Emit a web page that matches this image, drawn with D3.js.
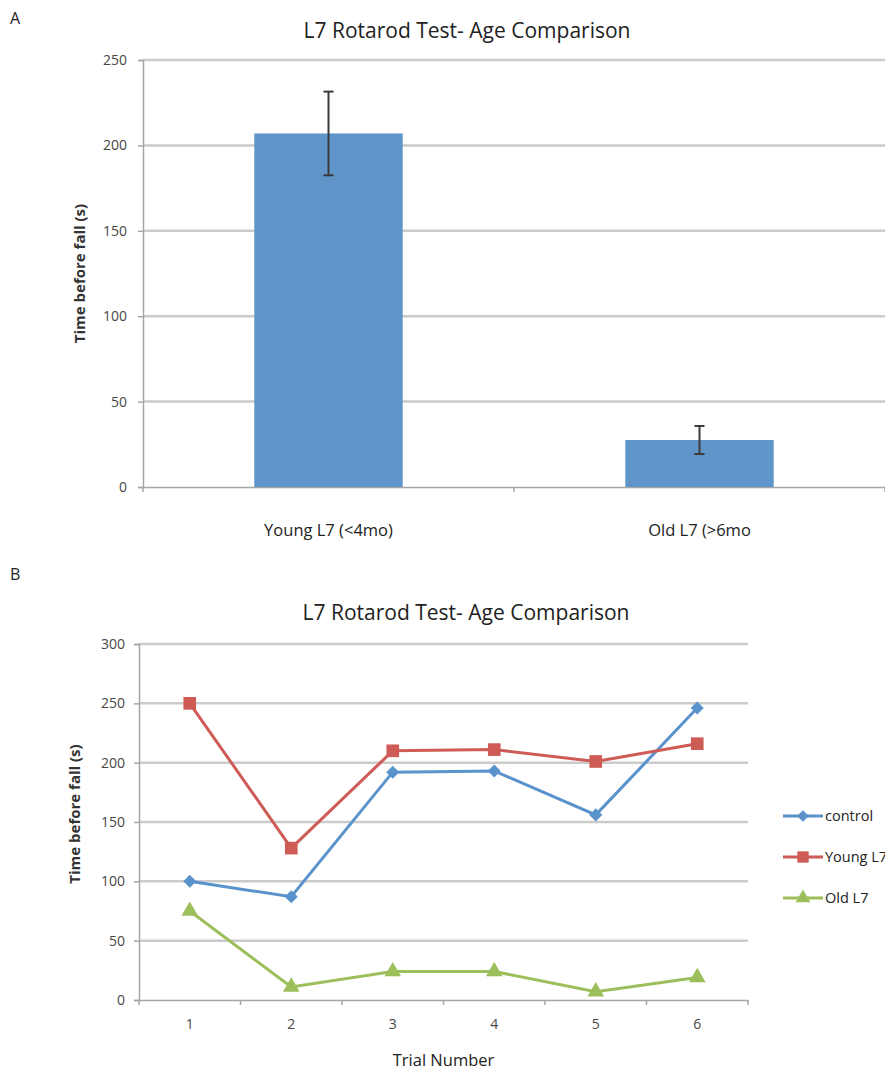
<!DOCTYPE html>
<html>
<head>
<meta charset="utf-8">
<script src="https://cdn.jsdelivr.net/npm/d3@7"></script>
<style>
  body { margin: 0; background: #fff; }
  svg { display: block; font-family: "Open Sans", sans-serif; }
</style>
</head>
<body>
<svg id="drawing_region"></svg>
<script>
// panel A data
const barCategories = ["Young L7 (<4mo)", "Old L7 (>6mo"];
const barMeans = [207, 27.5];
const barErrors = [24.5, 8.2];
const barTicks = [0, 50, 100, 150, 200, 250];

// panel B data
const trials = [1, 2, 3, 4, 5, 6];
const seriesNames = ["control", "Young L7", "Old L7"];
const controlValues = [100, 87, 192, 193, 156, 246];
const youngValues = [250, 128, 210, 211, 201, 216];
const oldValues = [75, 11, 24, 24, 7, 19];
const lineTicks = [0, 50, 100, 150, 200, 250, 300];

const gridColor = '#cbcbcb';
const axisColor = '#a6a6a6';
const tickColor = '#474747';

const svg = d3.select('#drawing_region')
    .attr('width', 885)
    .attr('height', 1076);

// panel letters
svg.append('text').attr('x', 10).attr('y', 24).attr('font-size', 16).attr('fill', '#222').text('A');
svg.append('text').attr('x', 10).attr('y', 580).attr('font-size', 16).attr('fill', '#222').text('B');

class BarPlot {
    constructor(config) {
        this.config = config;
        this.init();
    }

    init() {
        let self = this;
        let c = self.config;
        self.chart = svg.append('g');

        self.xscale = d3.scaleBand()
            .domain(barCategories)
            .range([c.left, c.right])
            .padding(0);

        self.yscale = d3.scaleLinear()
            .domain([0, 250])
            .range([c.bottom, c.top]);
    }

    render() {
        let self = this;
        let c = self.config;
        let data = barCategories.map((d, i) => ({ label: d, value: barMeans[i], err: barErrors[i] }));

        // title
        self.chart.append('text')
            .attr('x', 467).attr('y', c.top - 22)
            .attr('text-anchor', 'middle')
            .attr('font-size', 21)
            .attr('fill', '#222')
            .text('L7 Rotarod Test- Age Comparison');

        // grid lines
        self.chart.selectAll('.grid')
            .data(barTicks.filter(t => t > 0))
            .enter()
            .append('line')
            .attr('x1', c.left).attr('x2', c.right)
            .attr('y1', d => self.yscale(d)).attr('y2', d => self.yscale(d))
            .attr('stroke', gridColor).attr('stroke-width', 2.5);

        // y axis
        const yaxis = self.chart.append('g')
            .attr('transform', `translate(${c.left},0)`)
            .call(d3.axisLeft(self.yscale).tickValues(barTicks).tickSize(5).tickPadding(11));
        yaxis.select('.domain').attr('stroke', axisColor).attr('stroke-width', 1.5);
        yaxis.selectAll('.tick line').attr('stroke', axisColor).attr('stroke-width', 1.5);
        yaxis.selectAll('.tick text').attr('font-size', 14).attr('fill', tickColor)
            .attr('font-family', '"Open Sans", sans-serif');

        // x axis
        const xaxis = self.chart.append('g')
            .attr('transform', `translate(0,${c.bottom})`)
            .call(d3.axisBottom(self.xscale).tickSize(0).tickPadding(37));
        xaxis.select('.domain').attr('stroke', axisColor).attr('stroke-width', 1.5);
        xaxis.selectAll('.tick text').attr('font-size', 16.5).attr('fill', '#222')
            .attr('font-family', '"Open Sans", sans-serif');
        // category boundary ticks
        let bounds = barCategories.map(d => self.xscale(d)).concat([c.right]);
        self.chart.selectAll('.xt')
            .data(bounds)
            .enter()
            .append('line')
            .attr('x1', d => d).attr('x2', d => d)
            .attr('y1', c.bottom).attr('y2', c.bottom + 5)
            .attr('stroke', axisColor).attr('stroke-width', 1.5);

        // y label
        self.chart.append('text')
            .attr('transform', `translate(85,${(c.top + c.bottom) / 2}) rotate(-90)`)
            .attr('text-anchor', 'middle')
            .attr('font-size', 15)
            .attr('font-weight', 'bold')
            .attr('fill', '#333')
            .text('Time before fall (s)');

        // Draw bars
        let bw = self.xscale.bandwidth() * 0.4;
        self.chart.selectAll('.bar')
            .data(data)
            .enter()
            .append('rect')
            .attr('x', d => self.xscale(d.label) + self.xscale.bandwidth() / 2 - bw / 2)
            .attr('y', d => self.yscale(d.value))
            .attr('width', bw)
            .attr('height', d => self.yscale(0) - self.yscale(d.value))
            .attr('fill', '#5f95c9');

        // error bars
        const eb = self.chart.selectAll('.err')
            .data(data)
            .enter()
            .append('g')
            .attr('stroke', '#3a3a3a')
            .attr('stroke-width', 2);
        let cx = d => self.xscale(d.label) + self.xscale.bandwidth() / 2;
        eb.append('line')
            .attr('x1', cx).attr('x2', cx)
            .attr('y1', d => self.yscale(d.value + d.err))
            .attr('y2', d => self.yscale(d.value - d.err));
        eb.append('line')
            .attr('x1', d => cx(d) - 5).attr('x2', d => cx(d) + 5)
            .attr('y1', d => self.yscale(d.value + d.err))
            .attr('y2', d => self.yscale(d.value + d.err));
        eb.append('line')
            .attr('x1', d => cx(d) - 5).attr('x2', d => cx(d) + 5)
            .attr('y1', d => self.yscale(d.value - d.err))
            .attr('y2', d => self.yscale(d.value - d.err));
    }
}

class LinePlot {
    constructor(config) {
        this.config = config;
        this.init();
    }

    init() {
        let self = this;
        let c = self.config;
        self.chart = svg.append('g');

        self.xscale = d3.scaleBand()
            .domain(trials)
            .range([c.left, c.right])
            .padding(0);

        self.yscale = d3.scaleLinear()
            .domain([0, 300])
            .range([c.bottom, c.top]);

        self.colors = ['#5a92cc', '#cf5b56', '#9dbf5b'];
        // square turned 45deg makes the Excel-like diamond
        self.shapes = [d3.symbolSquare, d3.symbolSquare, d3.symbolTriangle];
        self.sizes = [85, 160, 120];
        self.rotations = [45, 0, 0];
    }

    render() {
        let self = this;
        let c = self.config;
        let series = [controlValues, youngValues, oldValues].map((vals, i) => ({
            name: seriesNames[i],
            values: vals.map((v, j) => ({ x: trials[j], y: v }))
        }));

        self.chart.append('text')
            .attr('x', 466).attr('y', c.top - 24)
            .attr('text-anchor', 'middle')
            .attr('font-size', 21)
            .attr('fill', '#222')
            .text('L7 Rotarod Test- Age Comparison');

        self.chart.selectAll('.grid')
            .data(lineTicks.filter(t => t > 0))
            .enter()
            .append('line')
            .attr('x1', c.left).attr('x2', c.right)
            .attr('y1', d => self.yscale(d)).attr('y2', d => self.yscale(d))
            .attr('stroke', gridColor).attr('stroke-width', 2.5);

        const yaxis = self.chart.append('g')
            .attr('transform', `translate(${c.left},0)`)
            .call(d3.axisLeft(self.yscale).tickValues(lineTicks).tickSize(5).tickPadding(9));
        yaxis.select('.domain').attr('stroke', axisColor).attr('stroke-width', 1.5);
        yaxis.selectAll('.tick line').attr('stroke', axisColor).attr('stroke-width', 1.5);
        yaxis.selectAll('.tick text').attr('font-size', 14).attr('fill', tickColor)
            .attr('font-family', '"Open Sans", sans-serif');

        const xaxis = self.chart.append('g')
            .attr('transform', `translate(0,${c.bottom})`)
            .call(d3.axisBottom(self.xscale).tickSize(0).tickPadding(19));
        xaxis.select('.domain').attr('stroke', axisColor).attr('stroke-width', 1.5);
        xaxis.selectAll('.tick text').attr('font-size', 14).attr('fill', tickColor)
            .attr('font-family', '"Open Sans", sans-serif');
        let bounds = trials.map(d => self.xscale(d)).concat([c.right]);
        self.chart.selectAll('.xt')
            .data(bounds)
            .enter()
            .append('line')
            .attr('x1', d => d).attr('x2', d => d)
            .attr('y1', c.bottom).attr('y2', c.bottom + 5)
            .attr('stroke', axisColor).attr('stroke-width', 1.5);

        self.chart.append('text')
            .attr('x', (c.left + c.right) / 2).attr('y', c.bottom + 66)
            .attr('text-anchor', 'middle')
            .attr('font-size', 16.5)
            .attr('fill', '#222')
            .text('Trial Number');

        self.chart.append('text')
            .attr('transform', `translate(80,${(c.top + c.bottom) / 2 - 8}) rotate(-90)`)
            .attr('text-anchor', 'middle')
            .attr('font-size', 15)
            .attr('font-weight', 'bold')
            .attr('fill', '#333')
            .text('Time before fall (s)');

        let cx = d => self.xscale(d.x) + self.xscale.bandwidth() / 2;
        const line = d3.line()
            .x(cx)
            .y(d => self.yscale(d.y));

        series.forEach((s, i) => {
            self.chart.append('path')
                .datum(s.values)
                .attr('d', line)
                .attr('fill', 'none')
                .attr('stroke', self.colors[i])
                .attr('stroke-width', 3);

            self.chart.selectAll('.pt' + i)
                .data(s.values)
                .enter()
                .append('path')
                .attr('d', d3.symbol().type(self.shapes[i]).size(self.sizes[i]))
                .attr('transform', d => `translate(${cx(d)},${self.yscale(d.y)}) rotate(${self.rotations[i]})`)
                .attr('fill', self.colors[i]);
        });

        // legend
        const legend = self.chart.selectAll('.legend')
            .data(series)
            .enter()
            .append('g')
            .attr('transform', (d, i) => `translate(783,${816 + i * 41})`);
        legend.append('line')
            .attr('x1', 0).attr('x2', 40)
            .attr('stroke', (d, i) => self.colors[i])
            .attr('stroke-width', 3);
        legend.append('path')
            .attr('d', (d, i) => d3.symbol().type(self.shapes[i]).size(self.sizes[i] * 0.8)())
            .attr('transform', (d, i) => `translate(20,0) rotate(${self.rotations[i]})`)
            .attr('fill', (d, i) => self.colors[i]);
        legend.append('text')
            .attr('x', 42).attr('dy', '0.35em')
            .attr('font-size', 14.5)
            .attr('fill', '#222')
            .text(d => d.name);
    }
}

const barPlot = new BarPlot({ left: 143, right: 885, top: 60, bottom: 487 });
barPlot.render();

const linePlot = new LinePlot({ left: 139, right: 748, top: 644, bottom: 1000 });
linePlot.render();
</script>
</body>
</html>
